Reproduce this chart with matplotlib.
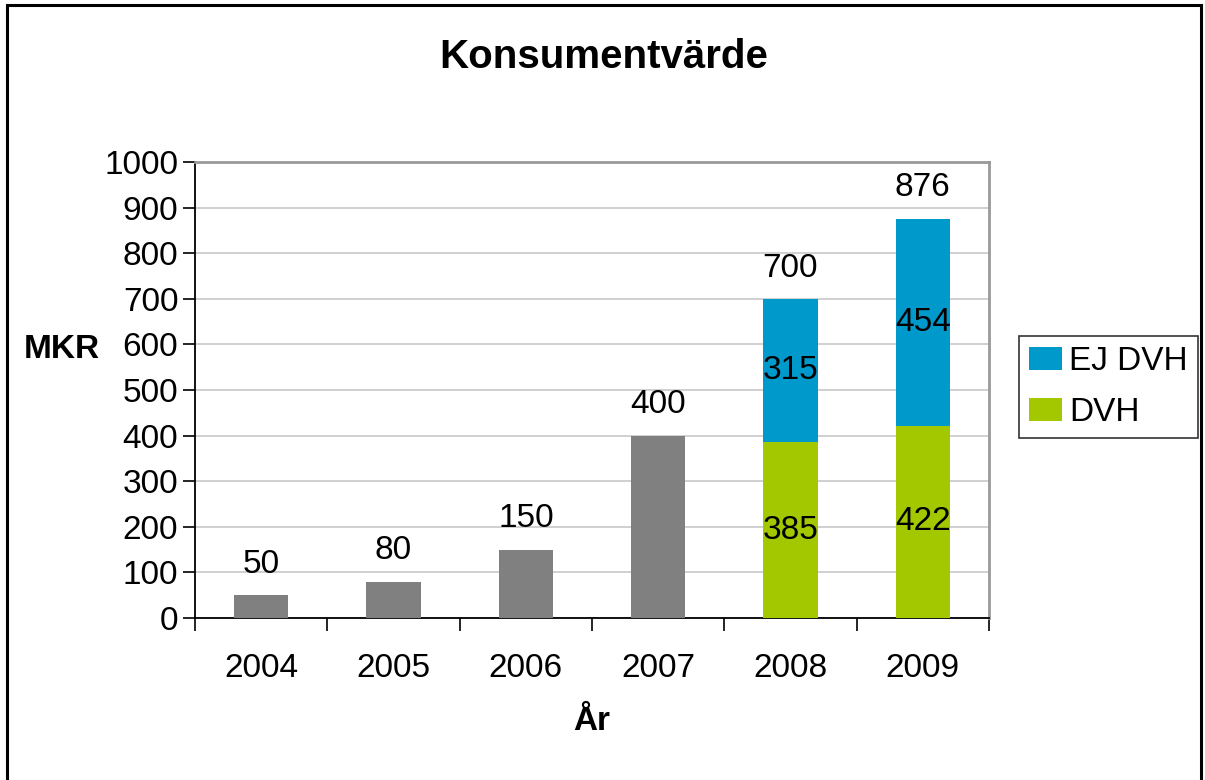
import numpy as np
import matplotlib.pyplot as plt
from matplotlib.patches import Rectangle, Patch

plt.rcParams["font.family"] = ["Liberation Sans", "DejaVu Sans"]

# -----------------------------
# Data
# -----------------------------
years = ["2004", "2005", "2006", "2007", "2008", "2009"]
total = [50, 80, 150, 400, 700, 876]
dvh = [0, 0, 0, 0, 385, 422]
ej_dvh = [0, 0, 0, 0, 315, 454]
split_years = [4, 5]  # indices of years that are split in DVH / EJ DVH

GRAY = "#808080"
BLUE = "#0099CC"
GREEN = "#A3C800"
FS = 24

fig = plt.figure(figsize=(12.05, 7.8), dpi=100)
ax = fig.add_axes([195 / 1205, 1 - 618 / 780, (989 - 195) / 1205, (618 - 162) / 780])

x = np.arange(len(years))
width = 0.41

# plain gray bars for years without split
plain = [i for i in x if i not in split_years]
ax.bar([x[i] for i in plain], [total[i] for i in plain], width, color=GRAY, zorder=3)

# stacked bars
sx = [x[i] for i in split_years]
sd = [dvh[i] for i in split_years]
se = [ej_dvh[i] for i in split_years]
ax.bar(sx, sd, width, color=GREEN, zorder=3)
ax.bar(sx, se, width, bottom=sd, color=BLUE, zorder=3)

# value labels
for i in x:
    ax.annotate(str(total[i]), (x[i], total[i]), xytext=(0, 11),
                textcoords="offset points", ha="center", va="bottom", fontsize=FS)
for i in split_years:
    ax.text(x[i], dvh[i] / 2, str(dvh[i]), ha="center", va="center", fontsize=FS, zorder=4)
    ax.text(x[i], dvh[i] + ej_dvh[i] / 2, str(ej_dvh[i]), ha="center", va="center",
            fontsize=FS, zorder=4)

# axes
ax.set_xlim(-0.5, len(years) - 0.5)
ax.set_ylim(0, 1000)
ax.set_yticks(np.arange(0, 1001, 100))
ax.yaxis.grid(True, color="#c8c8c8", linewidth=1.2, zorder=0)
ax.set_xticks(np.arange(-0.5, len(years), 1))
ax.set_xticklabels([])
ax.set_xticks(x, minor=True)
ax.set_xticklabels(years, minor=True)
ax.tick_params(axis="x", which="major", direction="out", length=9, width=1.2, color="black")
ax.tick_params(axis="x", which="minor", length=0, pad=25, labelsize=FS)
ax.tick_params(axis="y", direction="out", length=9, width=1.2, labelsize=FS, pad=3)

for side in ["left", "bottom"]:
    ax.spines[side].set_color("black")
    ax.spines[side].set_linewidth(1.3)
for side in ["top", "right"]:
    ax.spines[side].set_color("#999999")
    ax.spines[side].set_linewidth(2)

fig.text(604 / 1205, 1 - 57 / 780, "Konsumentvärde", ha="center", va="center",
         fontsize=29, fontweight="bold")
fig.text(62 / 1205, 1 - 350 / 780, "MKR", ha="center", va="center",
         fontsize=FS, fontweight="bold")
fig.text(592 / 1205, 1 - 722 / 780, "År", ha="center", va="center",
         fontsize=FS, fontweight="bold")

# legend
handles = [Patch(facecolor=BLUE, label="EJ DVH"), Patch(facecolor=GREEN, label="DVH")]
leg = fig.legend(handles=handles, loc="upper left", bbox_to_anchor=(1019 / 1205, 1 - 336 / 780),
                 fontsize=FS, frameon=True, fancybox=False, edgecolor="black",
                 handlelength=1.0, handleheight=0.7, handletextpad=0.2,
                 labelspacing=0.6, borderpad=0.3, borderaxespad=0)
leg.get_frame().set_linewidth(1.2)

# outer frame
fig.patches.append(Rectangle((7 / 1205, -0.02), (1201 - 7) / 1205, 1 - 5 / 780 + 0.02,
                             transform=fig.transFigure, fill=False,
                             edgecolor="black", linewidth=2.2))

fig.savefig("out.png", dpi=100)
